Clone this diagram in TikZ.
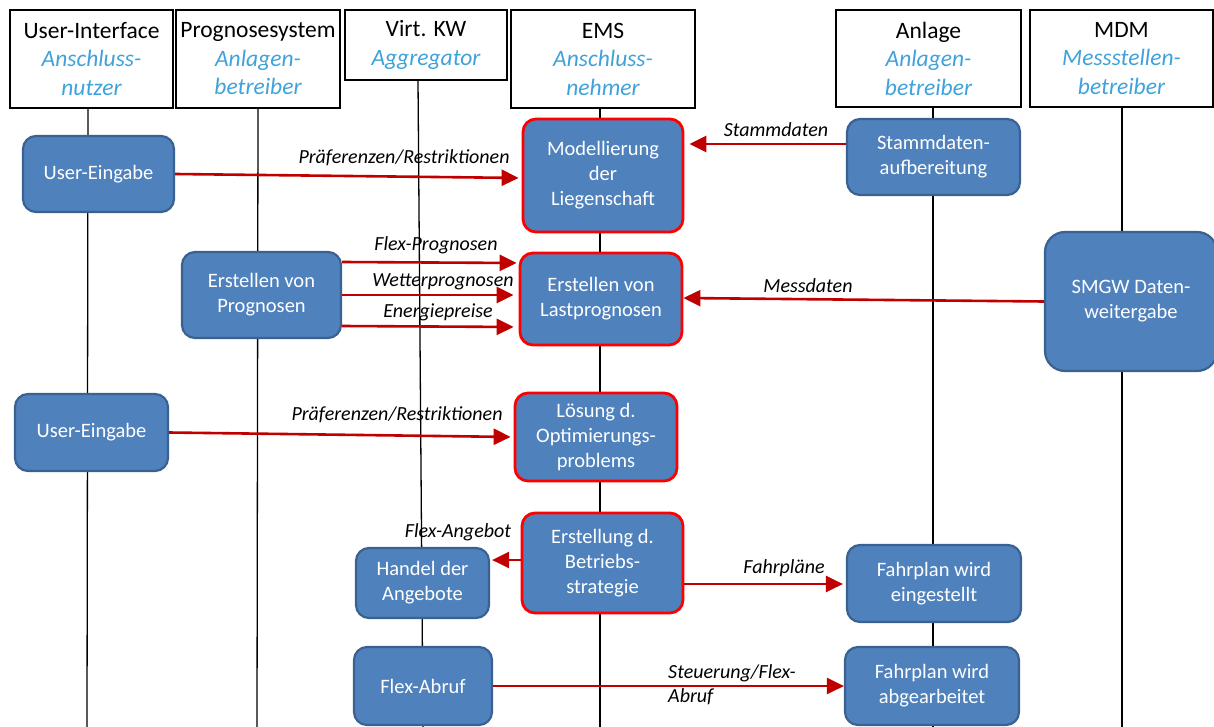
\documentclass[tikz,border=0pt]{standalone}
\usepackage{fontspec}
\setmainfont{Carlito}
\usetikzlibrary{arrows.meta,calc}
\definecolor{boxblue}{HTML}{4F81BD}
\definecolor{boxedge}{HTML}{3A6190}
\definecolor{hdrblue}{HTML}{3FA2DB}
\definecolor{arrred}{HTML}{C00000}
\definecolor{edgered}{HTML}{FF0000}
\newcommand\hrole[1]{{\color{hdrblue}\itshape #1}}
\tikzset{
  hdr/.style={draw=black, line width=2pt, fill=white, align=center, inner sep=0pt, font=\fontsize{23.5}{28.5}\selectfont},
  proc/.style={draw=boxedge, line width=2.2pt, fill=boxblue, rounded corners=13pt, text=white, align=center, font=\fontsize{20.5}{25}\selectfont, inner sep=0pt},
  crit/.style={proc, draw=edgered, line width=2.8pt},
  lbl/.style={font=\itshape\fontsize{20}{24.5}\selectfont, inner sep=0pt},
  arr/.style={draw=arrred, line width=2.6pt, -{Triangle[length=17pt,width=16pt]}},
  life/.style={draw=black, line width=1.3pt}
}
\begin{document}
\begin{tikzpicture}[x=1pt,y=-1pt]
\useasboundingbox (0,0) rectangle (1214,727);
% lifeline coordinates
\coordinate (t1) at (88,108);   \coordinate (b1) at (87,727);
\coordinate (t2) at (258,108);  \coordinate (b2) at (257,727);
\coordinate (t3) at (418,80);   \coordinate (b3) at (423,727);
\coordinate (t4) at (600,108);  \coordinate (b4) at (600,727);
\coordinate (t5) at (933,107);  \coordinate (b5) at (933,727);
\coordinate (t6) at (1122,107); \coordinate (b6) at (1122,727);
\draw[life] (t1) -- (b1);
\draw[life] (t2) -- (b2);
\draw[life] (t3) -- (b3);
\draw[life] (t4) -- (b4);
\draw[life] (t5) -- (b5);
\draw[life] (t6) -- (b6);
% headers
\node[hdr, minimum width=163pt, minimum height=98pt] (h1) at (91.5,59) {User-Interface\\\hrole{Anschluss-}\\\hrole{nutzer}};
\node[hdr, minimum width=164pt, minimum height=98pt] (h2) at (258,59) {Prognosesystem\\\hrole{Anlagen-}\\\hrole{betreiber}};
\node[hdr, minimum width=162pt, minimum height=70pt] (h3) at (426,45) {Virt. KW\\\hrole{Aggregator}};
\node[hdr, minimum width=184pt, minimum height=98pt] (h4) at (603,59) {EMS\\\hrole{Anschluss-}\\\hrole{nehmer}};
\node[hdr, minimum width=185pt, minimum height=97pt] (h5) at (928.5,58.5) {Anlage\\\hrole{Anlagen-}\\\hrole{betreiber}};
\node[hdr, minimum width=183pt, minimum height=97pt] (h6) at (1121.5,58.5) {MDM\\\hrole{Messstellen-}\\\hrole{betreiber}};
% process boxes
\node[proc, minimum width=151pt, minimum height=76pt] (ue1) at (98.5,174) {User-Eingabe};
\node[crit, minimum width=160pt, minimum height=113pt] (mod) at (603,175.5) {Modellierung\\der\\Liegenschaft};
\node[proc, minimum width=173pt, minimum height=76pt] (stamm) at (933.5,157) {Stammdaten-\\aufbereitung};
\node[proc, minimum width=159pt, minimum height=86pt] (prog) at (261.5,295) {Erstellen von\\Prognosen};
\node[crit, minimum width=162pt, minimum height=92pt] (last) at (601,299) {Erstellen von\\Lastprognosen};
\node[proc, minimum width=172pt, minimum height=139pt, rounded corners=20pt] (smgw) at (1131,301.5) {SMGW Daten-\\weitergabe};
\node[proc, minimum width=153pt, minimum height=77pt] (ue2) at (91.5,432.5) {User-Eingabe};
\node[crit, minimum width=162pt, minimum height=88pt] (loes) at (596,437) {Lösung d.\\Optimierungs-\\problems};
\node[crit, minimum width=161pt, minimum height=100pt] (betr) at (602.5,563) {Erstellung d.\\Betriebs-\\strategie};
\node[proc, minimum width=133pt, minimum height=70pt] (handel) at (422.5,583) {Handel der\\Angebote};
\node[proc, minimum width=174pt, minimum height=77pt] (fp1) at (934,583.5) {Fahrplan wird\\eingestellt};
\node[proc, minimum width=138pt, minimum height=78pt] (flex) at (423,686) {Flex-Abruf};
\node[proc, minimum width=174pt, minimum height=78pt] (fp2) at (932,686) {Fahrplan wird\\abgearbeitet};
% arrows
\draw[arr, shorten >=3pt] (ue1.east) -- ([yshift=-2.5pt]mod.west);
\draw[arr, shorten >=5pt] ([yshift=13pt]stamm.west) -- ([yshift=13pt]stamm.west -| mod.east);
\draw[arr, shorten >=2pt] ([yshift=33pt]prog.east) -- ([yshift=36pt]last.west);
\draw[arr, shorten >=5pt] (prog.east) -- ([yshift=4pt]last.west);
\draw[arr, shorten >=5pt] ([yshift=-31pt]prog.east) -- ([yshift=-28pt]last.west);
\draw[arr] (smgw.west) -- ([yshift=1pt]last.east);
\draw[arr, shorten >=3pt] (ue2.east) -- (loes.west);
\draw[arr, shorten >=2pt] ([yshift=3pt]betr.west) -- ([yshift=3pt]betr.west -| handel.east);
\draw[arr, shorten >=3pt] ([yshift=-21pt]betr.east) -- ([yshift=-21pt]betr.east -| fp1.west);
\draw[arr] (flex.east) -- (fp2.west);
% labels
\node[lbl] (l1) at (404,158) {Präferenzen/Restriktionen};
\node[lbl] (l2) at (776,130) {Stammdaten};
\node[lbl] (l3) at (436,245) {Flex-Prognosen};
\node[lbl] (l4) at (443,282) {Wetterprognosen};
\node[lbl] (l5) at (438,312) {Energiepreise};
\node[lbl] (l6) at (808,286) {Messdaten};
\node[lbl] (l7) at (397,415) {Präferenzen/Restriktionen};
\node[lbl] (l8) at (458,532) {Flex-Angebot};
\node[lbl] (l9) at (784,568) {Fahrpläne};
\node[lbl, anchor=west, align=left] (l10) at (668,684.5) {Steuerung/Flex-\\Abruf};
\end{tikzpicture}
\end{document}
